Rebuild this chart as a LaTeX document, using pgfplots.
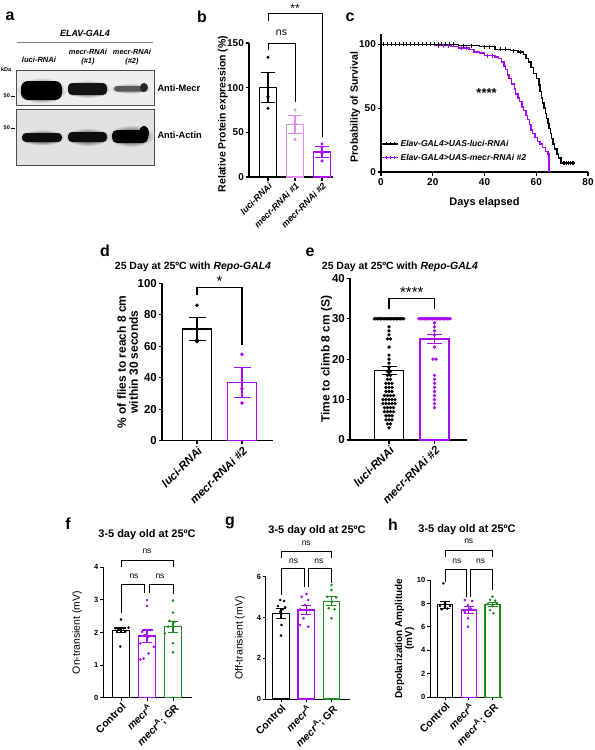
\documentclass[border=0pt]{standalone}
\usepackage{pgfplots}
\pgfplotsset{compat=1.18}
\usepackage{fontspec}
\setmainfont{Liberation Sans}
\definecolor{gpLight}{HTML}{E38BF2}
\definecolor{gpPurple}{HTML}{A90AF0}
\definecolor{gpGreen}{HTML}{1B8C1B}
\definecolor{blotbg}{HTML}{EEEEEE}
\newcommand{\fs}[1]{\fontsize{#1}{#1}\selectfont}
\pgfplotsset{
  gp/.style={
    scale only axis, clip=false,
    axis lines*=left,
    axis line style={line width=1.1pt, black},
    tick align=outside,
    major tick length=3.5bp,
    every tick/.style={line width=1.1pt, black},
    /pgf/number format/assume math mode=true,
    yticklabel style={font=\bfseries\fs{10}, inner sep=1.5bp},
    ylabel style={font=\bfseries\fs{10.5}, anchor=center},
  },
  rotx/.style={xticklabel style={rotate=45, anchor=north east, inner sep=1bp, font=\bfseries\itshape\fs{#1}}},
  rotxu/.style={xticklabel style={rotate=45, anchor=north east, inner sep=1bp, font=\bfseries\fs{#1}}},
  gpbar/.style 2 args={ybar, bar shift=0pt, fill=white, draw=#1, line width=1.4pt,
    error bars/y dir=both, error bars/y explicit,
    error bars/error bar style={line width=1.2pt, #1},
    error bars/error mark options={rotate=90, line width=1.2pt, #1, mark size=#2}},
  pts/.style={only marks, mark=*, mark size=#1},
}
\begin{document}
\begin{tikzpicture}
\path[use as bounding box] (0bp,0bp) rectangle (595bp,-750bp);
% ---------------- panel letters ----------------
\begin{scope}[x=1bp,y=-1bp]
\foreach \l/\px/\py in {a/10/16, b/202/17, c/350/17, d/105/251, e/310/252, f/68/524, g/230/523, h/393/525}
  \node[font=\bfseries\fs{16}] at (\px,\py) {\l};
% ---------------- panel a (blot) ----------------
\node[font=\bfseries\itshape\fs{9}] at (85,33) {ELAV-GAL4};
\draw[gray, line width=0.9pt] (17,42) -- (153,42);
\node[font=\bfseries\itshape\fs{7.6}] at (39,60) {luci-RNAi};
\node[font=\bfseries\itshape\fs{7.4}, align=center, inner sep=0pt] at (88,57) {mecr-RNAi\\[1pt](\#1)};
\node[font=\bfseries\itshape\fs{7.4}, align=center, inner sep=0pt] at (132,57) {mecr-RNAi\\[1pt](\#2)};
\node[font=\bfseries\fs{5.5}, anchor=west, inner sep=0pt] at (1,70) {kDa};
\node[font=\bfseries\fs{5.5}, anchor=east, inner sep=1pt] at (11,96) {50};
\draw[line width=0.6pt] (11,96) -- (15,96);
\node[font=\bfseries\fs{5.5}, anchor=east, inner sep=1pt] at (11,128) {50};
\draw[line width=0.6pt] (11,128) -- (15,128);
\fill[blotbg] (16,70) rectangle (154,105);
\fill[blotbg!95!black] (16,109) rectangle (154,165);
% top bands
\shade[inner color=black, outer color=blotbg] (41.5,90.5) ellipse (25 and 13);
\fill[black, rounded corners=7bp] (21,81) rectangle (62,100);
\shade[inner color=black!90, outer color=blotbg] (87.5,89) ellipse (23 and 9);
\fill[black!92, rounded corners=4bp] (68,83) rectangle (107,95);
\shade[inner color=black!60, outer color=blotbg] (130,88.5) ellipse (21 and 5.5);
\fill[black!65, rounded corners=3bp] (114,86) rectangle (146,91.5);
\fill[black!85] (144,87.5) ellipse (4 and 4.5);
% bottom bands
\shade[inner color=black, outer color=blotbg!95!black] (42,137.5) ellipse (23 and 8);
\fill[black!95, rounded corners=4bp] (22,133) rectangle (62,142);
\shade[inner color=black, outer color=blotbg!95!black] (87.5,137) ellipse (23 and 9);
\fill[black!95, rounded corners=4bp] (68,132) rectangle (107,142);
\shade[inner color=black, outer color=blotbg!95!black] (131,136) ellipse (23 and 11);
\fill[black, rounded corners=5bp] (112,130) rectangle (148,143);
\fill[black] (144,133) ellipse (5 and 7);
\draw[black!70, line width=0.8pt] (16,70) rectangle (154,105);
\draw[black!70, line width=0.8pt] (16,109) rectangle (154,165);
\node[font=\bfseries\fs{9.3}, anchor=west] at (154,88) {Anti-Mecr};
\node[font=\bfseries\fs{9.3}, anchor=west] at (154,135) {Anti-Actin};
% titles
\node[font=\bfseries\fs{10.5}] at (193,267) {25 Day at 25ºC with \textit{Repo-GAL4}};
\node[font=\bfseries\fs{10.5}] at (400,267) {25 Day at 25ºC with \textit{Repo-GAL4}};
\node[font=\bfseries\fs{11}] at (147,535) {3-5 day old at 25ºC};
\node[font=\bfseries\fs{11}] at (317,531) {3-5 day old at 25ºC};
\node[font=\bfseries\fs{11}] at (467,530) {3-5 day old at 25ºC};
\end{scope}

% ---------------- panel b ----------------
\begin{axis}[gp, rotx=9, at={(249bp,-177bp)}, anchor=south west, width=84bp, height=134bp,
  xmin=0.296, xmax=3.407, ymin=0, ymax=150, ytick={0,50,100,150}, xtick={1,2,3},
  xticklabels={luci-RNAi, mecr-RNAi \#1, mecr-RNAi \#2},
  ylabel={Relative Protein expression (\%)}, ylabel style={at={(axis description cs:-0.31,0.47)}}]
\addplot[gpbar={black}{7bp}, bar width=0.63] coordinates {(1,100) +- (0,17)};
\addplot[gpbar={gpLight}{7bp}, bar width=0.63] coordinates {(2,59) +- (0,10)};
\addplot[gpbar={gpPurple}{7bp}, bar width=0.63] coordinates {(3,28) +- (0,6)};
\addplot[pts=1.4bp, black] coordinates {(1,134) (1,90) (1,77)};
\addplot[pts=1.4bp, gpLight] coordinates {(2,75) (2,60) (2,42)};
\addplot[pts=1.4bp, gpPurple] coordinates {(3,37) (3,33) (3,26.5) (3,18)};
\draw[line width=1pt] (axis cs:1,142) -- (axis cs:1,150) -- (axis cs:2,150) -- (axis cs:2,84);
\node[font=\fs{10.5}] at (axis cs:1.5,161) {ns};
\draw[line width=1pt] (axis cs:1,175) -- (axis cs:1,183) -- (axis cs:3,183) -- (axis cs:3,45);
\node[font=\fs{12}] at (axis cs:2,189) {**};
\end{axis}

% ---------------- panel c ----------------
\begin{axis}[gp, at={(381bp,-172bp)}, anchor=south west, width=207bp, height=138bp,
  xmin=0, xmax=80, ymin=0, ymax=108, xtick={0,20,40,60,80}, ytick={0,50,100},
  xticklabel style={font=\bfseries\fs{10}},
  xlabel={Days elapsed}, xlabel style={font=\bfseries\fs{11}, at={(axis description cs:0.5,-0.22)}, anchor=center},
  ylabel={Probability of Survival}, ylabel style={at={(axis description cs:-0.125,0.47)}},
  legend style={at={(axis description cs:0.0,0.06)}, anchor=south west, draw=none, fill=none,
     font=\bfseries\itshape\fs{8.6}, row sep=2bp, inner sep=0pt},
  legend cell align=left,
  legend image code/.code={\draw[#1] (0bp,0bp) -- (16bp,0bp);
     \draw[#1, line width=0.7pt] (4bp,-1.5bp) -- (4bp,1.5bp) (8bp,-1.5bp) -- (8bp,1.5bp) (12bp,-1.5bp) -- (12bp,1.5bp);}]
\addlegendimage{black, line width=1.4pt}
\addlegendentry{Elav-GAL4{>}UAS-luci-RNAi}
\addlegendimage{gpPurple, line width=1.4pt}
\addlegendentry{Elav-GAL4{>}UAS-mecr-RNAi \#2}
\addplot[const plot, gpPurple, line width=1.4pt, forget plot] coordinates {
 (0,100) (21,99) (27,98) (30,97) (34,96) (36,94) (38,93) (40,91) (44,90) (45.5,89)
 (46.5,86) (47.5,83) (48,80) (49,76) (49.5,73) (50.5,69) (51.5,65) (52,61) (53,58)
 (53.5,55) (54.5,51) (55,48) (56,44) (56.5,41) (57.5,37) (58,33) (58.5,30) (59.5,27)
 (60.5,24) (61.5,22) (62.5,19) (63.5,16) (64.5,14) (65,0)};
\addplot[only marks, mark=|, mark size=2bp, gpPurple, line width=0.8pt, forget plot] coordinates {
 (22,99) (24,99) (26,99) (31,97) (33,97) (41,91) (43,91)};
\addplot[const plot, black, line width=1.4pt, forget plot] coordinates {
 (0,100) (30,99) (38,98) (44,96) (50,95) (53,94) (55,92) (56,89) (57,86) (58,82)
 (59,77) (60,73) (61,68) (61.5,63) (62,58) (62.5,54) (63,50) (63.5,46) (64,42)
 (64.5,38) (65,34) (65.5,30) (66,26) (66.5,22) (67,18) (68,14) (68.5,11) (69.5,7) (75,7)};
\addplot[only marks, mark=|, mark size=2bp, black, line width=0.8pt, forget plot] coordinates {
 (1,100) (2.5,100) (4,100) (5.5,100) (7,100) (8.5,100) (10,100) (11.5,100) (13,100) (14.5,100)
 (16,100) (17.5,100) (19,100) (20.5,100) (22,100) (23.5,100) (25,100) (26.5,100) (28,100)
 (32,99) (35,99) (40,98) (42,98) (46,96) (48,96) (51,95) (54,94)
 (70.3,7) (71,7) (71.7,7) (72.4,7) (73.1,7) (73.8,7) (74.5,7)};
\node[font=\bfseries\fs{13}] at (axis cs:40.8,62) {****};
\end{axis}

% ---------------- panel d ----------------
\begin{axis}[gp, rotx=11.5, at={(162bp,-440.7bp)}, anchor=south west, width=111bp, height=157.4bp,
  xmin=0.222, xmax=2.689, ymin=0, ymax=100, ytick={0,20,40,60,80,100}, xtick={1,2},
  yticklabel style={font=\bfseries\fs{11.5}},
  xticklabels={luci-RNAi, mecr-RNAi \#2},
  ylabel={\% of flies to reach 8 cm\\within 30 seconds},
  ylabel style={align=center, font=\bfseries\fs{12}, at={(axis description cs:-0.31,0.5)}}]
\addplot[gpbar={black}{8.5bp}, bar width=0.644] coordinates {(1,71) +- (0,7.5)};
\addplot[gpbar={gpPurple}{8.5bp}, bar width=0.644] coordinates {(2,37) +- (0,9.5)};
\addplot[pts=1.6bp, black] coordinates {(1,86) (1,64) (1,63)};
\addplot[pts=1.6bp, gpPurple] coordinates {(2,55) (2,33) (2,24)};
\draw[line width=1.1pt] (axis cs:1,92.5) -- (axis cs:1,97.5) -- (axis cs:2,97.5) -- (axis cs:2,61);
\node[font=\fs{15}] at (axis cs:1.5,101.5) {*};
\end{axis}

% ---------------- panel e ----------------
\begin{axis}[gp, rotx=11.5, at={(350bp,-440bp)}, anchor=south west, width=117bp, height=161.7bp,
  xmin=0.143, xmax=2.714, ymin=0, ymax=40, ytick={0,10,20,30,40}, xtick={1,2},
  yticklabel style={font=\bfseries\fs{11.5}},
  xticklabels={luci-RNAi, mecr-RNAi \#2},
  ylabel={Time to climb 8 cm (S)},
  ylabel style={font=\bfseries\fs{12}, at={(axis description cs:-0.2,0.5)}}]
\addplot[gpbar={black}{7.5bp}, bar width=0.637] coordinates {(1,17.2) +- (0,1.0)};
\addplot[gpbar={gpPurple}{7.5bp}, bar width=0.637] coordinates {(2,25.0) +- (0,1.1)};
\addplot[pts=1.5bp, black] coordinates {
 (0.68,30) (0.712,30) (0.744,30) (0.776,30) (0.808,30) (0.84,30) (0.872,30) (0.904,30)
 (0.936,30) (0.968,30) (1,30) (1.032,30) (1.064,30) (1.096,30) (1.128,30) (1.16,30)
 (1.192,30) (1.224,30) (1.256,30) (1.288,30) (1.32,30)
 (1,28) (1,27) (1,26) (0.967,25) (1.033,25) (1,23) (1,21) (1,20) (1,19) (1,18)
 (0.967,17) (1.033,17) (0.967,16) (1.033,16) (0.967,15) (1.033,15)
 (0.934,14) (1,14) (1.066,14) (0.934,13) (1,13) (1.066,13) (0.934,12) (1,12) (1.066,12)
 (0.9,11) (0.967,11) (1.033,11) (1.1,11)
 (0.868,10) (0.934,10) (1,10) (1.066,10) (1.132,10)
 (0.868,9) (0.934,9) (1,9) (1.066,9) (1.132,9)
 (0.9,8) (0.967,8) (1.033,8) (1.1,8) (0.9,7) (0.967,7) (1.033,7) (1.1,7)
 (0.934,6) (1,6) (1.066,6) (0.934,5) (1,5) (1.066,5) (0.967,4) (1.033,4) (1,3)};
\addplot[pts=1.5bp, gpPurple] coordinates {
 (1.655,30) (1.685,30) (1.715,30) (1.745,30) (1.775,30) (1.805,30) (1.835,30) (1.865,30)
 (1.895,30) (1.925,30) (1.955,30) (1.985,30) (2.015,30) (2.045,30) (2.075,30) (2.105,30)
 (2.135,30) (2.165,30) (2.195,30) (2.225,30) (2.255,30) (2.285,30) (2.315,30) (2.345,30)
 (2,29) (2,28) (2,27) (2,26) (2,25) (2,23) (1.967,20) (2.033,20)
 (2,16) (2,15) (2,14) (2,13) (2,12) (2,11) (2,10) (2,9) (2,8)};
\draw[line width=1.1pt] (axis cs:1,32.5) -- (axis cs:1,35) -- (axis cs:2,35) -- (axis cs:2,32.5);
\node[font=\fs{15}] at (axis cs:1.5,36.6) {****};
\end{axis}

% ---------------- panel f ----------------
\begin{axis}[gp, rotxu=10.5, at={(103bp,-697.7bp)}, anchor=south west, width=89bp, height=130.4bp,
  xmin=0.308, xmax=3.73, ymin=0, ymax=4, ytick={0,1,2,3,4}, xtick={1,2,3},
  major tick length=3bp, axis line style={line width=1pt}, every tick/.style={line width=1pt, black},
  yticklabel style={font=\bfseries\fs{7.5}},
  xticklabels={Control, \textit{mecr}\textsuperscript{A}, \textit{mecr}\textsuperscript{A}; GR},
  ylabel={On-transient (mV)},
  ylabel style={font=\fs{10.5}, at={(axis description cs:-0.29,0.5)}}]
\addplot[gpbar={black}{5bp}, bar width=0.635, line width=1.2pt] coordinates {(1,2.07) +- (0,0.07)};
\addplot[gpbar={gpPurple}{5bp}, bar width=0.635, line width=1.2pt] coordinates {(2,1.89) +- (0,0.19)};
\addplot[gpbar={gpGreen}{5bp}, bar width=0.635, line width=1.2pt] coordinates {(3,2.18) +- (0,0.17)};
\addplot[pts=1.1bp, black] coordinates {(1,2.40) (0.78,2.13) (0.9,2.10) (1.1,2.13) (1.29,2.15) (0.84,2.05) (1.16,2.03) (0.97,1.57)};
\addplot[pts=1.1bp, gpPurple] coordinates {(2,3.0) (2,2.81) (1.81,2.02) (2.19,2.08) (1.91,1.92) (2.06,1.87) (1.74,1.66) (2.26,1.56) (2.06,1.36) (1.87,1.20) (1.74,1.17)};
\addplot[pts=1.1bp, gpGreen] coordinates {(3,2.98) (3,2.61) (2.87,2.36) (3.06,2.33) (2.81,2.18) (2.68,1.97) (3,1.67) (3,1.39)};
\draw[line width=0.9pt] (axis cs:1,2.59) -- (axis cs:1,3.46) -- (axis cs:1.91,3.46) -- (axis cs:1.91,3.2);
\draw[line width=0.9pt] (axis cs:2.09,3.2) -- (axis cs:2.09,3.46) -- (axis cs:3,3.46) -- (axis cs:3,3.17);
\draw[line width=0.9pt] (axis cs:1,4.02) -- (axis cs:1,4.22) -- (axis cs:3,4.22) -- (axis cs:3,4.0);
\node[font=\fs{8.5}] at (axis cs:1.5,3.73) {ns};
\node[font=\fs{8.5}] at (axis cs:2.5,3.73) {ns};
\node[font=\fs{8.5}] at (axis cs:2,4.48) {ns};
\end{axis}

% ---------------- panel g ----------------
\begin{axis}[gp, rotxu=10.5, at={(265.7bp,-699bp)}, anchor=south west, width=84.3bp, height=122.3bp,
  xmin=0.394, xmax=3.733, ymin=0, ymax=6, ytick={0,2,4,6}, xtick={1,2,3},
  major tick length=3bp, axis line style={line width=1pt}, every tick/.style={line width=1pt, black},
  yticklabel style={font=\bfseries\fs{7.5}},
  xticklabels={Control, \textit{mecr}\textsuperscript{A}, \textit{mecr}\textsuperscript{A}; GR},
  ylabel={Off-transient (mV)},
  ylabel style={font=\fs{10.5}, at={(axis description cs:-0.305,0.5)}}]
\addplot[gpbar={black}{5bp}, bar width=0.65, line width=1.2pt] coordinates {(1,4.2) +- (0,0.25)};
\addplot[gpbar={gpPurple}{5bp}, bar width=0.65, line width=1.2pt] coordinates {(2,4.37) +- (0,0.22)};
\addplot[gpbar={gpGreen}{5bp}, bar width=0.65, line width=1.2pt] coordinates {(3,4.8) +- (0,0.22)};
\addplot[pts=1.1bp, black] coordinates {(0.97,4.86) (1.12,4.81) (0.88,4.56) (1.17,4.5) (1.07,4.4) (0.97,4.28) (1.02,3.63) (1,3.11)};
\addplot[pts=1.1bp, gpPurple] coordinates {(2.01,5.15) (1.82,5.02) (2.08,4.86) (1.95,4.61) (1.76,4.4) (2.12,4.37) (1.89,3.96) (1.74,3.63) (2.08,3.55)};
\addplot[pts=1.1bp, gpGreen] coordinates {(3,5.59) (3,5.35) (2.82,5.02) (3.19,4.99) (3.02,4.77) (2.89,4.45) (3.12,4.4) (3,3.96)};
\draw[line width=0.9pt] (axis cs:1,5.1) -- (axis cs:1,6.41) -- (axis cs:1.91,6.41) -- (axis cs:1.91,5.5);
\draw[line width=0.9pt] (axis cs:2.09,5.5) -- (axis cs:2.09,6.41) -- (axis cs:3,6.41) -- (axis cs:3,5.67);
\draw[line width=0.9pt] (axis cs:1,6.9) -- (axis cs:1,7.23) -- (axis cs:3,7.23) -- (axis cs:3,6.9);
\node[font=\fs{8.5}] at (axis cs:1.5,6.77) {ns};
\node[font=\fs{8.5}] at (axis cs:2.5,6.77) {ns};
\node[font=\fs{8.5}] at (axis cs:2,7.63) {ns};
\end{axis}

% ---------------- panel h ----------------
\begin{axis}[gp, rotxu=10.5, at={(430bp,-697.3bp)}, anchor=south west, width=72bp, height=117.3bp,
  xmin=0.368, xmax=3.40, ymin=0, ymax=10, ytick={0,2,4,6,8,10}, xtick={1,2,3},
  major tick length=3bp, axis line style={line width=1pt}, every tick/.style={line width=1pt, black},
  yticklabel style={font=\bfseries\fs{7.5}},
  xticklabels={Control, \textit{mecr}\textsuperscript{A}, \textit{mecr}\textsuperscript{A}; GR},
  ylabel={Depolarization Amplitude\\(mV)},
  ylabel style={align=center, font=\bfseries\fs{10}, at={(axis description cs:-0.355,0.5)}}]
\addplot[gpbar={black}{5bp}, bar width=0.63, line width=1.2pt] coordinates {(1,7.9) +- (0,0.3)};
\addplot[gpbar={gpPurple}{5bp}, bar width=0.63, line width=1.2pt] coordinates {(2,7.44) +- (0,0.28)};
\addplot[gpbar={gpGreen}{5bp}, bar width=0.63, line width=1.2pt] coordinates {(3,7.93) +- (0,0.16)};
\addplot[pts=1.1bp, black] coordinates {(0.93,9.72) (0.79,7.78) (1,7.73) (1.21,7.78) (0.86,7.5) (1.1,7.56) (1,8.0)};
\addplot[pts=1.1bp, gpPurple] coordinates {(1.83,8.3) (2.15,8.21) (1.97,7.87) (2.07,7.59) (1.83,7.3) (2.18,7.44) (1.97,6.73) (1.97,6.02)};
\addplot[pts=1.1bp, gpGreen] coordinates {(3,8.58) (2.9,8.3) (3.11,8.24) (2.79,7.95) (3.18,7.95) (3,7.78) (2.9,7.44) (3.04,7.16)};
\draw[line width=0.9pt] (axis cs:1,9.86) -- (axis cs:1,10.9) -- (axis cs:1.91,10.9) -- (axis cs:1.91,8.58);
\draw[line width=0.9pt] (axis cs:2.09,8.58) -- (axis cs:2.09,10.9) -- (axis cs:3,10.9) -- (axis cs:3,9.15);
\draw[line width=0.9pt] (axis cs:1,12) -- (axis cs:1,12.56) -- (axis cs:3,12.56) -- (axis cs:3,12);
\node[font=\fs{8.5}] at (axis cs:1.5,11.56) {ns};
\node[font=\fs{8.5}] at (axis cs:2.5,11.56) {ns};
\node[font=\fs{8.5}] at (axis cs:2,13.27) {ns};
\end{axis}
\end{tikzpicture}
\end{document}
